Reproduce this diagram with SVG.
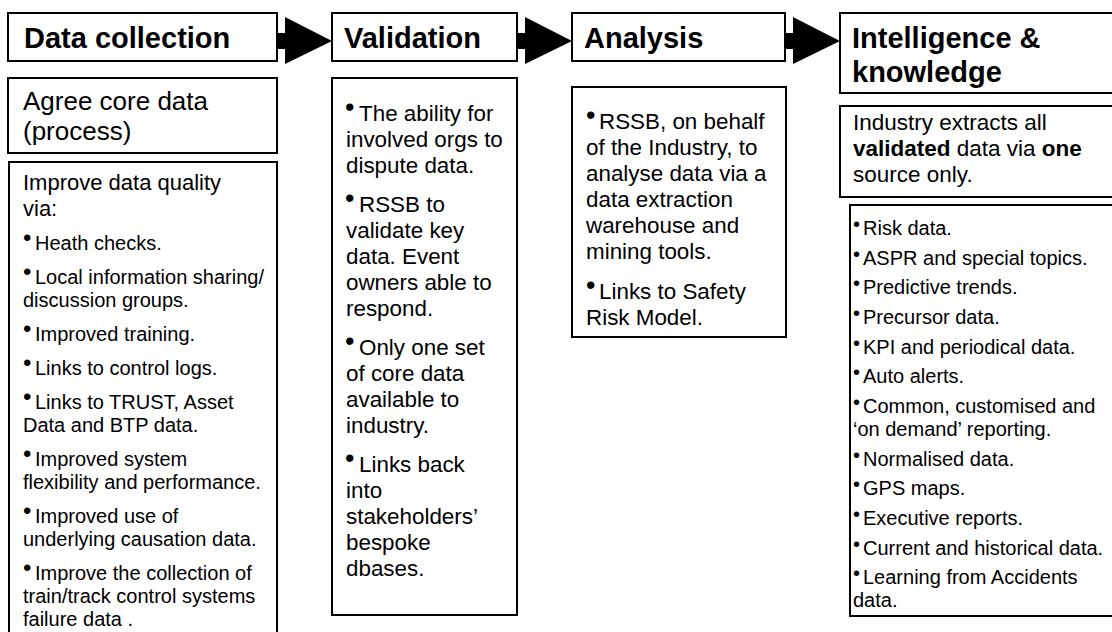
<svg xmlns="http://www.w3.org/2000/svg" width="1112" height="632" viewBox="0 0 1112 632">
<style>
text{font-family:"Liberation Sans",Arial,sans-serif;fill:#000}
.box{fill:#fff;stroke:#000;stroke-width:2}
.h{font-weight:bold;font-size:29px}
.s26{font-size:26px}
.s22{font-size:22.4px}
.s20{font-size:20px}
.b1{font-size:24px}
.b2{font-size:27px}
.b4{font-size:20px}
.bold{font-weight:bold}
.arrow{fill:#000}
</style>
<rect width="1112" height="632" fill="#fff"/>
<g id="connectors">
<polygon class="arrow" points="277,33 285,33 285,17 332,41 285,64 285,49 277,49"/>
<polygon class="arrow" points="517,33 525,33 525,17 572,41 525,64 525,49 517,49"/>
<polygon class="arrow" points="785,33 793,33 793,17 840,41 793,64 793,49 785,49"/>
</g>
<g id="data-collection">
<rect class="box" x="8" y="13" width="269" height="48"/>
<text class="h" x="24" y="48">Data collection</text>
</g>
<g id="agree-core-data">
<rect class="box" x="8" y="78" width="269" height="75"/>
<text class="s26" x="23" y="110">Agree core data</text>
<text class="s26" x="23" y="140">(process)</text>
</g>
<g id="improve-data-quality">
<rect class="box" x="9" y="162" width="268" height="480"/>
<text x="23" y="190" style="font-size:22px">Improve data quality</text>
<text x="23" y="216" style="font-size:22px">via:</text>
<g class="s20">
<text><tspan class="b1" x="23" y="246">•</tspan><tspan x="35" y="250">Heath checks.</tspan></text>
<text><tspan class="b1" x="23" y="280">•</tspan><tspan x="35" y="284">Local information sharing/</tspan></text>
<text x="23" y="307">discussion groups.</text>
<text><tspan class="b1" x="23" y="337">•</tspan><tspan x="35" y="341">Improved training.</tspan></text>
<text><tspan class="b1" x="23" y="371">•</tspan><tspan x="35" y="375">Links to control logs.</tspan></text>
<text><tspan class="b1" x="23" y="405">•</tspan><tspan x="35" y="409">Links to TRUST, Asset</tspan></text>
<text x="23" y="432">Data and BTP data.</text>
<text><tspan class="b1" x="23" y="462">•</tspan><tspan x="35" y="466">Improved system</tspan></text>
<text x="23" y="489">flexibility and performance.</text>
<text><tspan class="b1" x="23" y="519">•</tspan><tspan x="35" y="523">Improved use of</tspan></text>
<text x="23" y="546">underlying causation data.</text>
<text><tspan class="b1" x="23" y="576">•</tspan><tspan x="35" y="580">Improve the collection of</tspan></text>
<text x="23" y="603">train/track control systems</text>
<text x="23" y="626">failure data .</text>
</g>
</g>
<g id="validation">
<rect class="box" x="332" y="13" width="185" height="48"/>
<text class="h" x="344" y="48">Validation</text>
</g>
<g id="validation-detail">
<rect class="box" x="332" y="78" width="185" height="537"/>
<g class="s22">
<text><tspan class="b2" x="345" y="116">•</tspan><tspan x="359" y="121">The ability for</tspan></text>
<text x="346" y="147">involved orgs to</text>
<text x="346" y="173">dispute data.</text>
<text><tspan class="b2" x="345" y="207">•</tspan><tspan x="359" y="212">RSSB to</tspan></text>
<text x="346" y="238">validate key</text>
<text x="346" y="264">data. Event</text>
<text x="346" y="290">owners able to</text>
<text x="346" y="316">respond.</text>
<text><tspan class="b2" x="345" y="350">•</tspan><tspan x="359" y="355">Only one set</tspan></text>
<text x="346" y="381">of core data</text>
<text x="346" y="407">available to</text>
<text x="346" y="433">industry.</text>
<text><tspan class="b2" x="345" y="467">•</tspan><tspan x="359" y="472">Links back</tspan></text>
<text x="346" y="498">into</text>
<text x="346" y="524">stakeholders’</text>
<text x="346" y="550">bespoke</text>
<text x="346" y="576">dbases.</text>
</g>
</g>
<g id="analysis">
<rect class="box" x="572" y="13" width="213" height="48"/>
<text class="h" x="584" y="48">Analysis</text>
</g>
<g id="analysis-detail">
<rect class="box" x="572" y="87" width="214" height="250"/>
<g class="s22">
<text><tspan class="b2" x="586" y="124">•</tspan><tspan x="599" y="129">RSSB, on behalf</tspan></text>
<text x="586" y="155">of the Industry, to</text>
<text x="586" y="181">analyse data via a</text>
<text x="586" y="207">data extraction</text>
<text x="586" y="233">warehouse and</text>
<text x="586" y="259">mining tools.</text>
<text><tspan class="b2" x="586" y="294">•</tspan><tspan x="599" y="299">Links to Safety</tspan></text>
<text x="586" y="325">Risk Model.</text>
</g>
</g>
<g id="intelligence">
<rect class="box" x="840" y="13" width="276" height="80"/>
<text class="h" x="852" y="48">Intelligence &amp;</text>
<text class="h" x="852" y="82">knowledge</text>
</g>
<g id="industry-extracts">
<rect class="box" x="840" y="106" width="276" height="91"/>
<g style="font-size:22.5px">
<text x="853" y="130">Industry extracts all</text>
<text x="853" y="156"><tspan class="bold">validated</tspan> data via <tspan class="bold">one</tspan></text>
<text x="853" y="182">source only.</text>
</g>
</g>
<g id="outputs">
<rect class="box" x="850" y="205" width="266" height="411"/>
<g class="s20">
<text><tspan class="b4" x="853" y="231">•</tspan><tspan x="863" y="235">Risk data.</tspan></text>
<text><tspan class="b4" x="853" y="261">•</tspan><tspan x="863" y="265">ASPR and special topics.</tspan></text>
<text><tspan class="b4" x="853" y="290">•</tspan><tspan x="863" y="294">Predictive trends.</tspan></text>
<text><tspan class="b4" x="853" y="320">•</tspan><tspan x="863" y="324">Precursor data.</tspan></text>
<text><tspan class="b4" x="853" y="350">•</tspan><tspan x="863" y="354">KPI and periodical data.</tspan></text>
<text><tspan class="b4" x="853" y="379">•</tspan><tspan x="863" y="383">Auto alerts.</tspan></text>
<text><tspan class="b4" x="853" y="409">•</tspan><tspan x="863" y="413">Common, customised and</tspan></text>
<text x="853" y="436">‘on demand’ reporting.</text>
<text><tspan class="b4" x="853" y="462">•</tspan><tspan x="863" y="466">Normalised data.</tspan></text>
<text><tspan class="b4" x="853" y="491">•</tspan><tspan x="863" y="495">GPS maps.</tspan></text>
<text><tspan class="b4" x="853" y="521">•</tspan><tspan x="863" y="525">Executive reports.</tspan></text>
<text><tspan class="b4" x="853" y="551">•</tspan><tspan x="863" y="555">Current and historical data.</tspan></text>
<text><tspan class="b4" x="853" y="580">•</tspan><tspan x="863" y="584">Learning from Accidents</tspan></text>
<text x="853" y="607">data.</text>
</g>
</g>
</svg>
